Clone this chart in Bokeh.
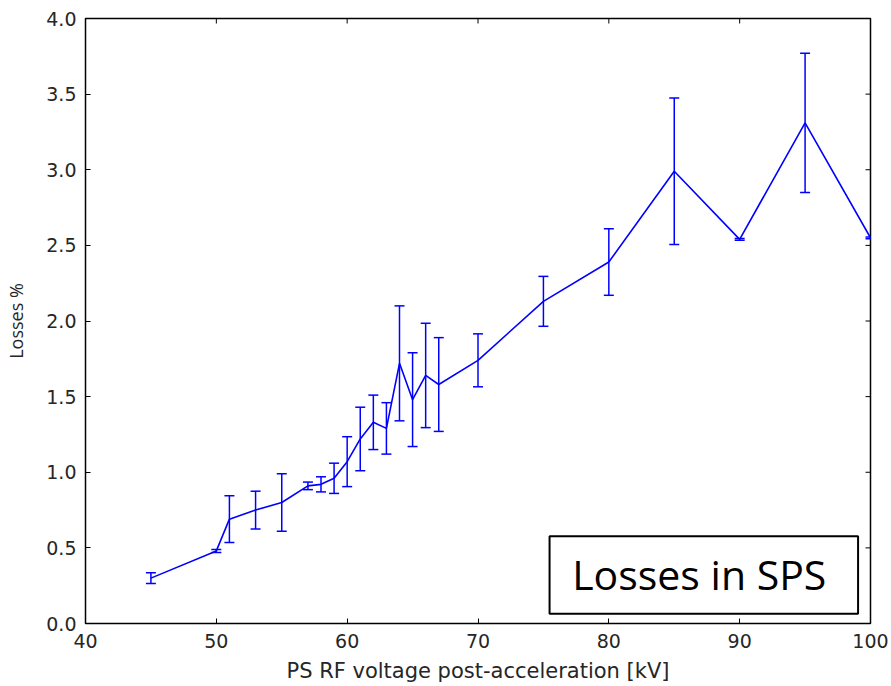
import math
from bokeh.plotting import figure
from bokeh.models import (ColumnDataSource, Whisker, TeeHead, FixedTicker,
                          NumeralTickFormatter, Range1d, BoxAnnotation, Label)
from bokeh.embed import file_html
from bokeh.resources import INLINE

voltage_kv = [45, 50, 51, 53, 55, 57, 58, 59, 60, 61, 62, 63, 64, 65, 66, 67, 70, 75, 80, 85, 90, 95, 100]
losses_pct = [0.30, 0.48, 0.69, 0.75, 0.80, 0.91, 0.92, 0.96, 1.07, 1.22, 1.33, 1.29, 1.72, 1.48, 1.64,
              1.58, 1.74, 2.13, 2.39, 2.99, 2.54, 3.31, 2.55]
losses_err = [0.035, 0.01, 0.155, 0.125, 0.19, 0.025, 0.05, 0.10, 0.165, 0.21, 0.18, 0.17, 0.38, 0.31,
              0.345, 0.31, 0.175, 0.165, 0.22, 0.485, 0.006, 0.46, 0.006]

x_ticks = [40, 50, 60, 70, 80, 90, 100]
y_ticks = [0.0, 0.5, 1.0, 1.5, 2.0, 2.5, 3.0, 3.5, 4.0]

x_label = "PS RF voltage post-acceleration [kV]"
y_label = "Losses %"
box_text = "Losses in SPS"

src = ColumnDataSource(dict(
    x=voltage_kv, y=losses_pct,
    upper=[v + e for v, e in zip(losses_pct, losses_err)],
    lower=[v - e for v, e in zip(losses_pct, losses_err)],
))

p = figure(width=891, height=686, frame_width=785, frame_height=605,
           output_backend="svg", toolbar_location=None,
           x_range=Range1d(40, 100), y_range=Range1d(0, 4),
           min_border_left=85, min_border_right=21, min_border_top=18, min_border_bottom=63)
p.xgrid.visible = False
p.ygrid.visible = False
p.outline_line_color = "black"
p.outline_line_width = 1.5
p.background_fill_color = "white"

blue = "#0000ff"
p.line("x", "y", source=src, line_color=blue, line_width=1.6)
w = Whisker(base="x", upper="upper", lower="lower", source=src, line_color=blue, line_width=1.5,
            upper_head=TeeHead(size=10, line_color=blue, line_width=1.5),
            lower_head=TeeHead(size=10, line_color=blue, line_width=1.5))
p.add_layout(w)

tick_color = "#262626"
p.xaxis.ticker = FixedTicker(ticks=x_ticks)
p.yaxis.ticker = FixedTicker(ticks=y_ticks)
p.yaxis.formatter = NumeralTickFormatter(format="0.0")

for ax in list(p.xaxis) + list(p.yaxis):
    ax.axis_line_color = None
    ax.major_tick_in = 5
    ax.major_tick_out = 0
    ax.major_tick_line_color = "black"
    ax.minor_tick_line_color = None
    ax.major_label_text_font = "DejaVu Sans"
    ax.major_label_text_font_size = "19px"
    ax.major_label_text_color = tick_color
    ax.axis_label_text_font_style = "normal"
    ax.axis_label_text_color = tick_color

p.xaxis.axis_label = x_label
p.xaxis.axis_label_text_font = "DejaVu Sans"
p.xaxis.axis_label_text_font_size = "21px"
p.xaxis.major_label_standoff = 10
p.xaxis.axis_label_standoff = 8
p.yaxis.axis_label = y_label
p.yaxis.axis_label_text_font = "Open Sans"
p.yaxis.axis_label_text_font_size = "18px"
p.yaxis.major_label_standoff = 9
p.yaxis.axis_label_standoff = 15

# inward tick marks on the right and top edges (matplotlib classic style)
p.ray(x=[x_ticks[-1]] * len(y_ticks), y=y_ticks, length=5, length_units="screen",
      angle=math.pi, line_color="black", line_width=1)
p.ray(x=x_ticks, y=[y_ticks[-1]] * len(x_ticks), length=5, length_units="screen",
      angle=-math.pi / 2, line_color="black", line_width=1)

box = BoxAnnotation(left=75.47, right=99.05, bottom=0.064, top=0.577,
                    fill_color="white", fill_alpha=1.0, line_color="black", line_alpha=1.0,
                    line_width=2)
p.add_layout(box)
lab = Label(x=77.2, y=0.326, text=box_text, text_font="Open Sans", text_font_size="41px",
            text_color="black", text_align="left", text_baseline="alphabetic")
p.add_layout(lab)

open("out.html", "w").write(file_html(p, INLINE))
